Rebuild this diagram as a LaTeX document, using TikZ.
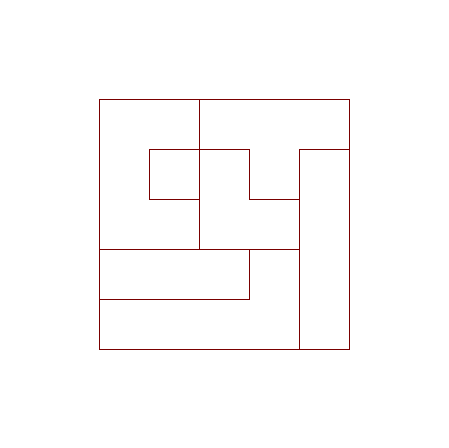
\documentclass[tikz,border=0pt]{standalone}
\definecolor{linered}{HTML}{7A0000}
\begin{document}
\begin{tikzpicture}[x=1pt,y=-1pt,line join=miter,
  edge/.style={draw=linered,line width=0.9pt}]
\useasboundingbox (0,0) rectangle (449,447);
% outer square
\draw[edge] (99.5,99.5) rectangle (349.5,349.5);
% vertical divider top
\draw[edge] (199.5,99.5) -- (199.5,249.5);
% small square
\draw[edge] (199.5,149.5) -- (149.5,149.5) -- (149.5,199.5) -- (199.5,199.5);
% step shape
\draw[edge] (199.5,149.5) -- (249.5,149.5) -- (249.5,199.5) -- (299.5,199.5);
% right column
\draw[edge] (349.5,149.5) -- (299.5,149.5) -- (299.5,349.5);
% middle horizontal
\draw[edge] (99.5,249.5) -- (299.5,249.5);
% lower bar
\draw[edge] (249.5,249.5) -- (249.5,299.5) -- (99.5,299.5);
\end{tikzpicture}
\end{document}
